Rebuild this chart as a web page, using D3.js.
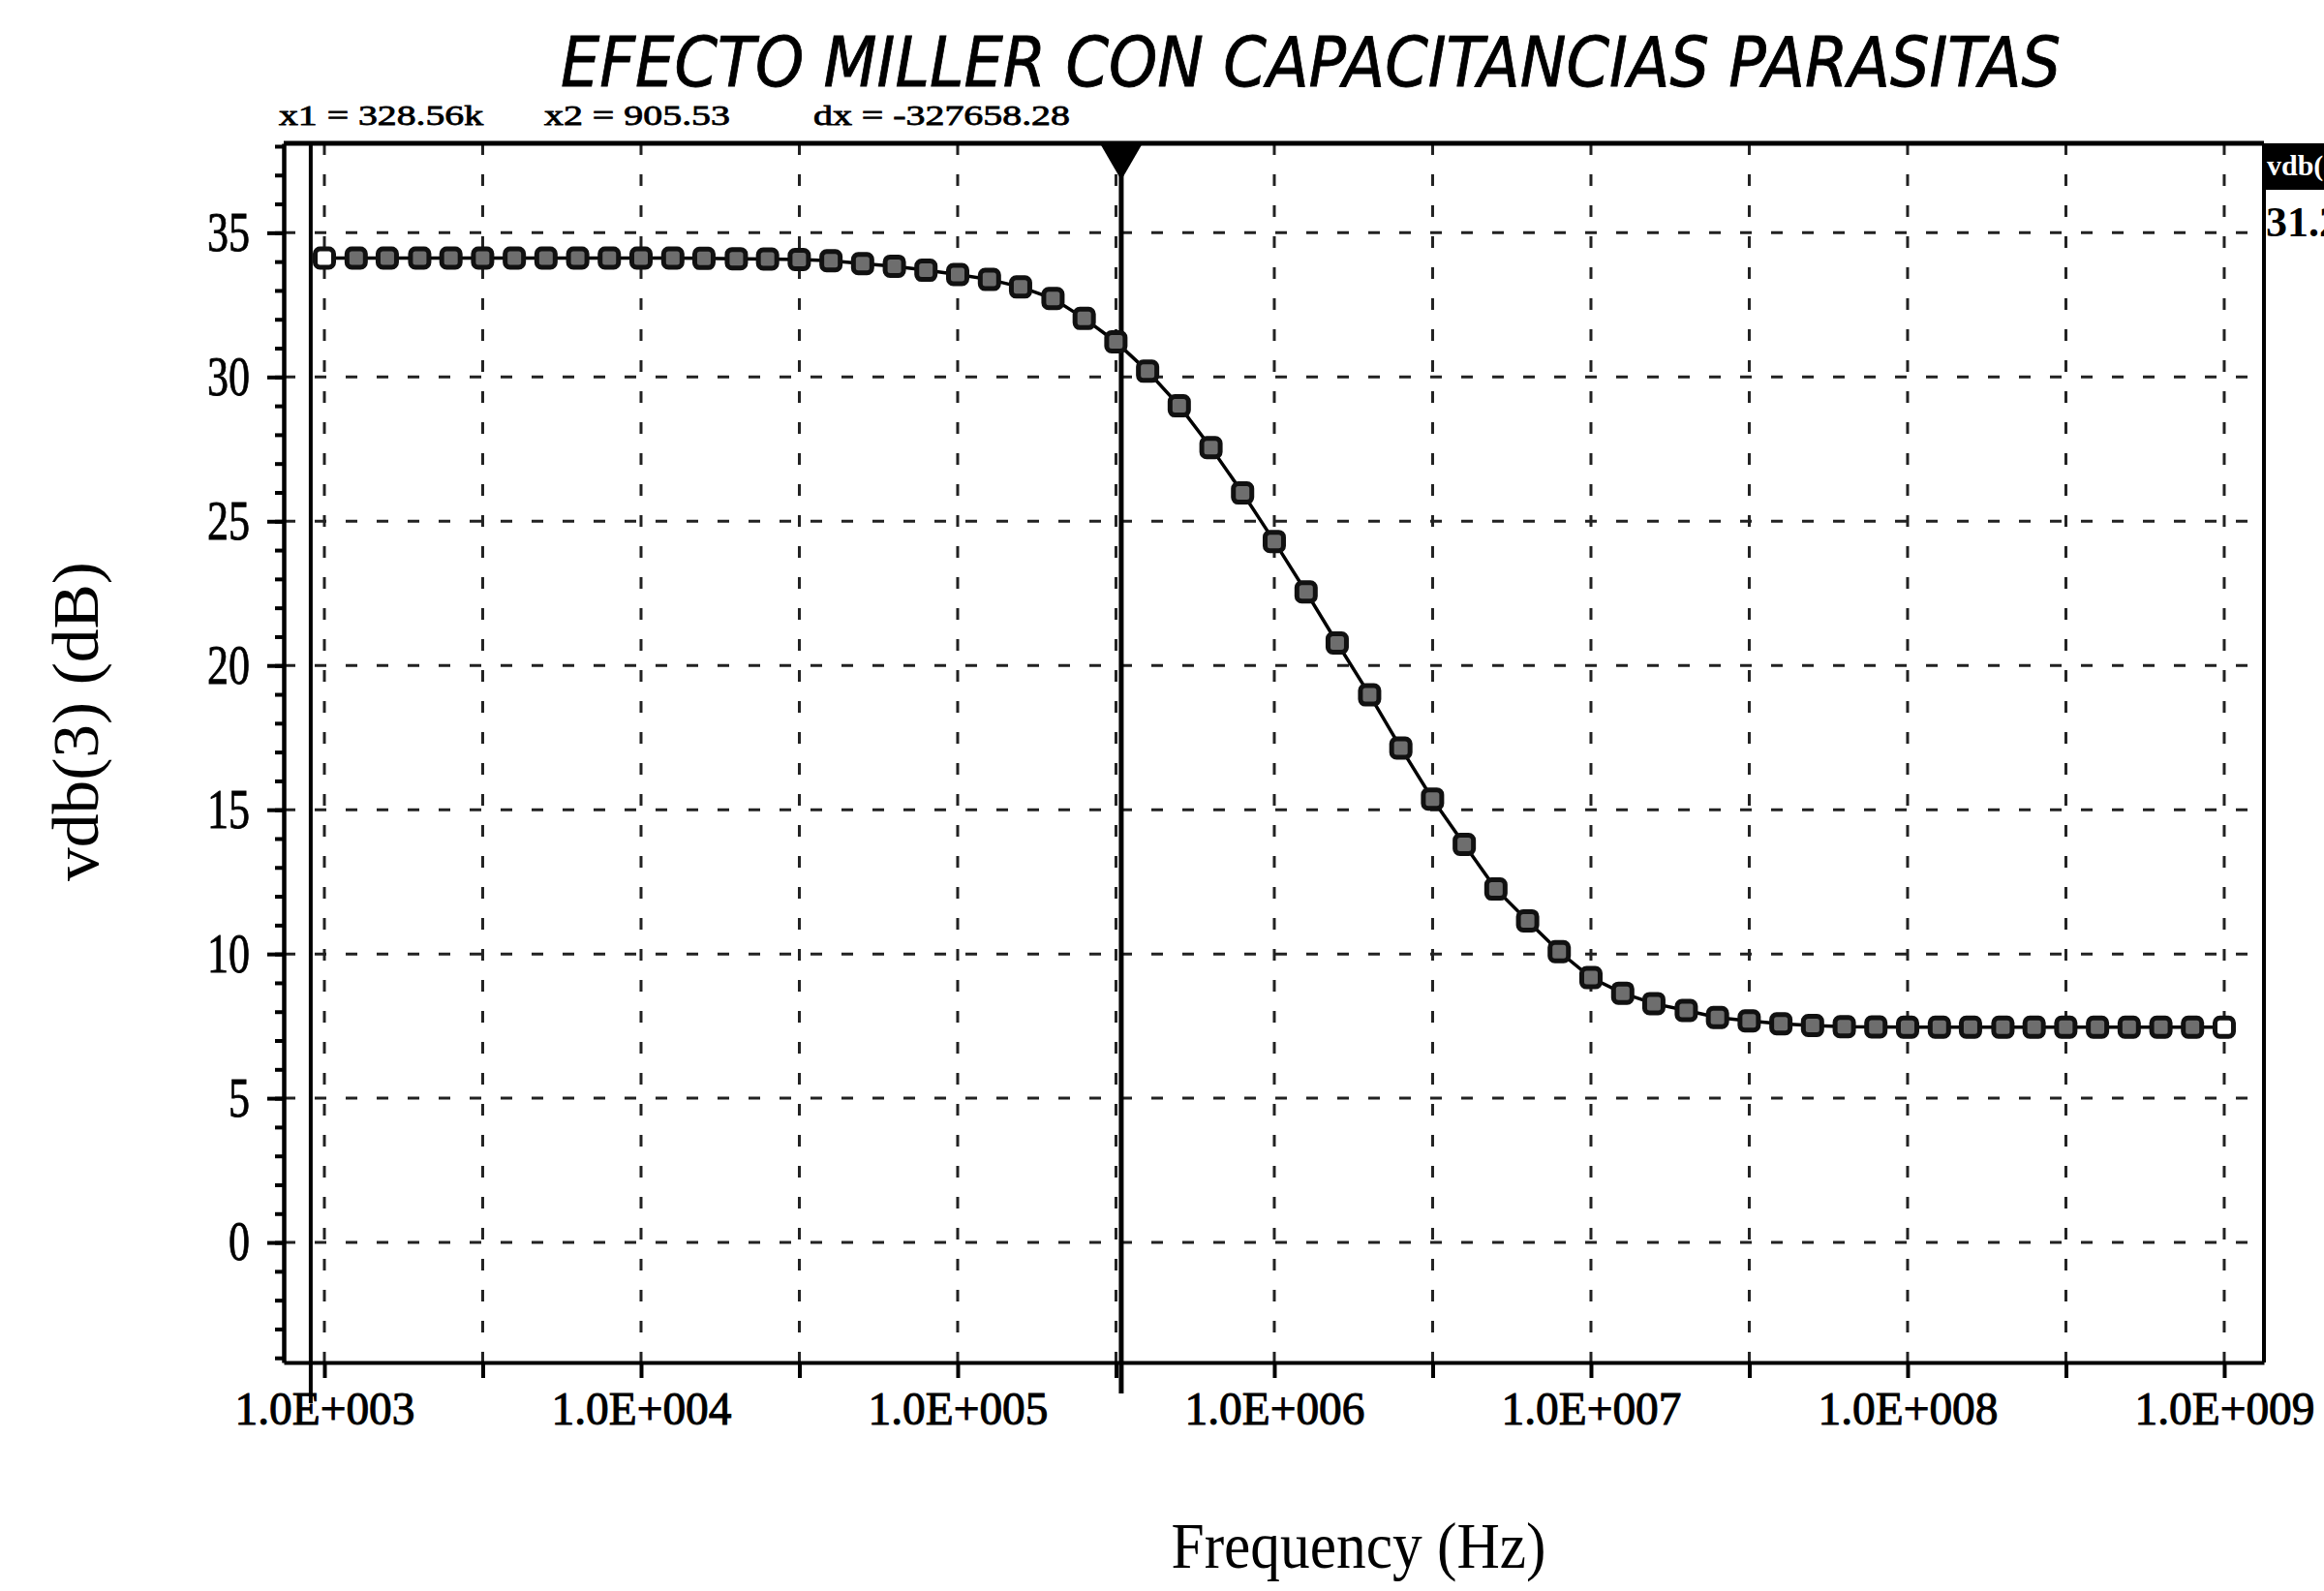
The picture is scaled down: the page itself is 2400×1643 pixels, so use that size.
<!DOCTYPE html>
<html>
<head>
<meta charset="utf-8">
<script src="https://cdn.jsdelivr.net/npm/d3@7"></script>
<style>
  body { margin: 0; background: #fff; }
  svg { display: block; }
</style>
</head>
<body>
<svg id="chart" width="2400" height="1643"></svg>
<script>
"use strict";

// sweep points, 10 per decade
var freqHz = [
  1.00e3, 1.26e3, 1.58e3, 2.00e3, 2.51e3, 3.16e3, 3.98e3, 5.01e3, 6.31e3, 7.94e3,
  1.00e4, 1.26e4, 1.58e4, 2.00e4, 2.51e4, 3.16e4, 3.98e4, 5.01e4, 6.31e4, 7.94e4,
  1.00e5, 1.26e5, 1.58e5, 2.00e5, 2.51e5, 3.16e5, 3.98e5, 5.01e5, 6.31e5, 7.94e5,
  1.00e6, 1.26e6, 1.58e6, 2.00e6, 2.51e6, 3.16e6, 3.98e6, 5.01e6, 6.31e6, 7.94e6,
  1.00e7, 1.26e7, 1.58e7, 2.00e7, 2.51e7, 3.16e7, 3.98e7, 5.01e7, 6.31e7, 7.94e7,
  1.00e8, 1.26e8, 1.58e8, 2.00e8, 2.51e8, 3.16e8, 3.98e8, 5.01e8, 6.31e8, 7.94e8,
  1.00e9
];
var gainDb = [
  34.12, 34.12, 34.12, 34.12, 34.12, 34.12, 34.12, 34.12, 34.12, 34.12,
  34.12, 34.12, 34.11, 34.10, 34.09, 34.07, 34.03, 33.93, 33.84, 33.70,
  33.55, 33.38, 33.12, 32.72, 32.03, 31.22, 30.20, 29.00, 27.55, 25.98,
  24.30, 22.55, 20.78, 18.98, 17.14, 15.37, 13.80, 12.25, 11.15, 10.08,
  9.18, 8.64, 8.28, 8.04, 7.80, 7.68, 7.58, 7.52, 7.48, 7.47,
  7.46, 7.46, 7.46, 7.46, 7.46, 7.46, 7.46, 7.46, 7.46, 7.46,
  7.46
];

var xGridTicks = [1e3, 3162, 1e4, 31623, 1e5, 316228, 1e6, 3162278, 1e7, 31622777, 1e8, 316227766, 1e9];
var xLabelTicks = [1e3, 1e4, 1e5, 1e6, 1e7, 1e8, 1e9];
var xTickLabels = ["1.0E+003", "1.0E+004", "1.0E+005", "1.0E+006", "1.0E+007", "1.0E+008", "1.0E+009"];
var yMajorTicks = [0, 5, 10, 15, 20, 25, 30, 35];
var yMinorTicks = [-4, -3, -2, -1, 0, 1, 2, 3, 4, 5, 6, 7, 8, 9, 10, 11, 12, 13, 14, 15, 16, 17, 18, 19,
  20, 21, 22, 23, 24, 25, 26, 27, 28, 29, 30, 31, 32, 33, 34, 35, 36, 37, 38];

var cursorFreq = [328.56e3, 905.53];
var cursorText = ["x1 = 328.56k", "x2 = 905.53", "dx = -327658.28"];
var probeName = "vdb(3)";
var probeValue = "31.204";

var titleText = "EFECTO MILLER CON CAPACITANCIAS PARASITAS";
var xTitle = "Frequency (Hz)";
var yTitle = "vdb(3) (dB)";

var serif = "'Liberation Serif', 'DejaVu Serif', serif";
var plot = { l: 293, r: 2338, t: 148, b: 1407 };

var svg = d3.select("#chart");

var x = d3.scaleLog().domain([744, 1.335e9]).range([plot.l, plot.r]);
var y = d3.scaleLinear().domain([-4.16, 38.1]).range([plot.b, plot.t]);

// grid
svg.append("g").classed("grid-x", true)
  .selectAll("line").data(xGridTicks).join("line")
  .attr("x1", function(d) { return x(d); })
  .attr("x2", function(d) { return x(d); })
  .attr("y1", plot.t)
  .attr("y2", plot.b)
  .attr("stroke", "#222")
  .attr("stroke-width", 3)
  .attr("stroke-dasharray", "12 20");

svg.append("g").classed("grid-y", true)
  .selectAll("line").data(yMajorTicks).join("line")
  .attr("x1", plot.l)
  .attr("x2", plot.r)
  .attr("y1", function(d) { return y(d); })
  .attr("y2", function(d) { return y(d); })
  .attr("stroke", "#222")
  .attr("stroke-width", 3)
  .attr("stroke-dasharray", "12 20");

// frame top and right
svg.append("line")
  .attr("x1", plot.l).attr("x2", plot.r).attr("y1", plot.t).attr("y2", plot.t)
  .attr("stroke", "#000").attr("stroke-width", 5);
svg.append("line")
  .attr("x1", plot.r).attr("x2", plot.r).attr("y1", plot.t).attr("y2", plot.b)
  .attr("stroke", "#000").attr("stroke-width", 4);

// x axis
var xAxisTicks = svg.append("g")
  .attr("transform", "translate(0," + plot.b + ")")
  .call(d3.axisBottom(x).tickValues(xGridTicks).tickSize(16).tickSizeOuter(0).tickFormat(""));
xAxisTicks.select(".domain").attr("stroke-width", 4);
xAxisTicks.selectAll(".tick line").attr("stroke-width", 4);

var xAxisLabels = svg.append("g")
  .attr("transform", "translate(0," + plot.b + ")")
  .call(d3.axisBottom(x).tickValues(xLabelTicks).tickSize(0).tickSizeOuter(0).tickPadding(30)
    .tickFormat(function(d, i) { return xTickLabels[i]; }));
xAxisLabels.select(".domain").remove();
xAxisLabels.selectAll("text")
  .attr("font-family", serif)
  .attr("font-size", 48)
  .attr("fill", "#000")
  .attr("stroke", "#000")
  .attr("stroke-width", 1)
  .attr("textLength", 186)
  .attr("lengthAdjust", "spacingAndGlyphs");

// y axis
var yMinor = svg.append("g")
  .attr("transform", "translate(" + plot.l + ",0)")
  .call(d3.axisLeft(y).tickValues(yMinorTicks).tickSize(9).tickSizeOuter(0).tickFormat(""));
yMinor.select(".domain").attr("stroke-width", 4.5);
yMinor.selectAll(".tick line").attr("stroke-width", 4);

var yMajor = svg.append("g")
  .attr("transform", "translate(" + plot.l + ",0)")
  .call(d3.axisLeft(y).tickValues(yMajorTicks).tickSize(17).tickSizeOuter(0).tickPadding(18)
    .tickFormat(d3.format("d")));
yMajor.select(".domain").remove();
yMajor.selectAll(".tick line").attr("stroke-width", 4);
yMajor.selectAll("text")
  .attr("font-family", serif)
  .attr("font-size", 56)
  .attr("fill", "#000")
  .attr("stroke", "#000")
  .attr("stroke-width", 0.8)
  .attr("textLength", function(d) { return String(d).length * 22; })
  .attr("lengthAdjust", "spacingAndGlyphs");

// cursors
svg.append("line")
  .attr("x1", x(cursorFreq[1])).attr("x2", x(cursorFreq[1]))
  .attr("y1", plot.t).attr("y2", plot.b + 42)
  .attr("stroke", "#000").attr("stroke-width", 4);
svg.append("line")
  .attr("x1", x(cursorFreq[0])).attr("x2", x(cursorFreq[0]))
  .attr("y1", plot.t).attr("y2", plot.b + 32)
  .attr("stroke", "#000").attr("stroke-width", 5);
svg.append("path")
  .attr("d", d3.line()([
    [x(cursorFreq[0]) - 22, plot.t],
    [x(cursorFreq[0]) + 22, plot.t],
    [x(cursorFreq[0]), plot.t + 38]
  ]) + "Z")
  .attr("fill", "#000");

// trace
var pts = freqHz.map(function(f, i) { return { f: f, v: gainDb[i], i: i }; });
svg.append("path")
  .datum(pts)
  .attr("fill", "none")
  .attr("stroke", "#000")
  .attr("stroke-width", 3.5)
  .attr("d", d3.line()
    .x(function(d) { return x(d.f); })
    .y(function(d) { return y(d.v); }));

svg.append("g").classed("markers", true)
  .selectAll("rect").data(pts).join("rect")
  .attr("x", function(d) { return x(d.f) - 9.5; })
  .attr("y", function(d) { return y(d.v) - 9.5; })
  .attr("width", 19)
  .attr("height", 19)
  .attr("rx", 5)
  .attr("fill", function(d) { return (d.i === 0 || d.i === pts.length - 1) ? "#fff" : "#6e6e6e"; })
  .attr("stroke", "#111")
  .attr("stroke-width", 5);

// probe readout, cut by the page edge
svg.append("rect")
  .attr("x", plot.r).attr("y", plot.t)
  .attr("width", 2400 - plot.r).attr("height", 48)
  .attr("fill", "#000");
svg.append("text")
  .attr("x", plot.r + 3).attr("y", plot.t + 33)
  .attr("font-family", serif).attr("font-size", 30).attr("font-weight", "bold")
  .attr("fill", "#fff")
  .text(probeName);
svg.append("text")
  .attr("x", plot.r + 2).attr("y", 244)
  .attr("font-family", serif).attr("font-size", 44).attr("font-weight", "bold")
  .attr("fill", "#000")
  .text(probeValue);

// cursor readout
var readX = [288, 562, 840];
var readW = [211, 192, 265];
svg.append("g").selectAll("text").data(cursorText).join("text")
  .attr("x", function(d, i) { return readX[i]; })
  .attr("y", 129)
  .attr("font-family", serif)
  .attr("font-size", 30)
  .attr("fill", "#000")
  .attr("stroke", "#000")
  .attr("stroke-width", 0.8)
  .attr("textLength", function(d, i) { return readW[i]; })
  .attr("lengthAdjust", "spacingAndGlyphs")
  .text(function(d) { return d; });

// titles
svg.append("text")
  .attr("x", 579).attr("y", 89)
  .attr("font-family", "'DejaVu Sans Condensed', 'DejaVu Sans', sans-serif")
  .attr("font-style", "italic")
  .attr("font-size", 72)
  .attr("fill", "#000")
  .attr("stroke", "#000")
  .attr("stroke-width", 0.8)
  .attr("textLength", 1549)
  .attr("lengthAdjust", "spacingAndGlyphs")
  .text(titleText);

svg.append("text")
  .attr("x", 1403).attr("y", 1619)
  .attr("text-anchor", "middle")
  .attr("font-family", serif)
  .attr("font-size", 68)
  .attr("fill", "#000")
  .attr("textLength", 387)
  .attr("lengthAdjust", "spacingAndGlyphs")
  .text(xTitle);

svg.append("text")
  .attr("transform", "translate(101,745) rotate(-90)")
  .attr("text-anchor", "middle")
  .attr("font-family", serif)
  .attr("font-size", 68)
  .attr("fill", "#000")
  .attr("textLength", 330)
  .attr("lengthAdjust", "spacingAndGlyphs")
  .text(yTitle);
</script>
</body>
</html>
